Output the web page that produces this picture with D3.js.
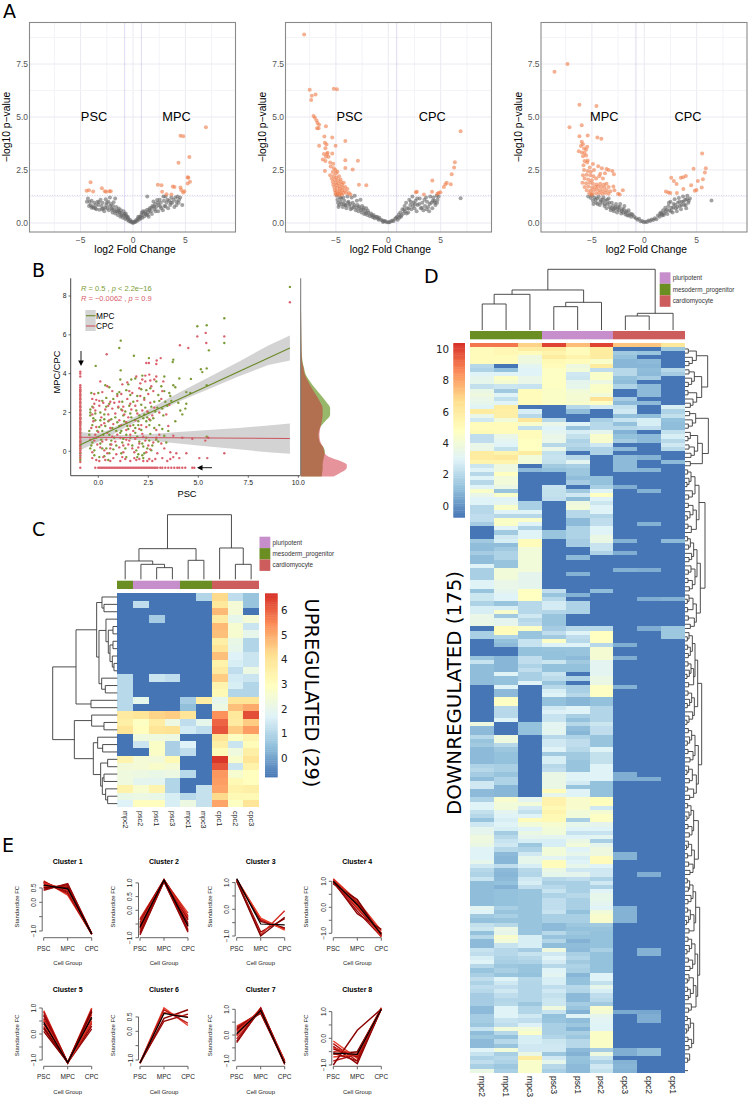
<!DOCTYPE html>
<html><head><meta charset="utf-8">
<script src="https://cdn.jsdelivr.net/npm/d3@7/dist/d3.min.js"></script>
<style>html,body{margin:0;background:#fff}svg{display:block}text{font-family:"Liberation Sans",Arial,sans-serif}</style>
</head><body><svg id="c" width="750" height="1100"></svg>
<script>
// ---------- Panel A data: [log2 fold change, -log10 p]
const a1Grey=[[-4.3,1.15],[-4.15,1],[-4.05,.85],[-3.95,.72],[-3.85,.78],[-3.7,.95],[-3.6,.7],[-3.5,.65],[-3.4,1],[-3.3,.85],[-3.2,.62],[-3.1,1.1],[-3,.8],[-2.9,.95],[-2.85,.68],[-2.75,.55],[-2.6,1.12],[-2.55,.85],[-2.45,.7],[-2.35,1],[-2.3,.6],[-2.2,1.2],[-2.1,.9],[-2.05,.7],[-1.95,.5],[-1.9,.8],[-1.8,.62],[-1.7,1.15],[-1.7,.45],[-1.6,.75],[-1.5,.55],[-1.45,.38],[-1.35,.68],[-1.3,.48],[-1.2,.3],[-1.15,.6],[-1.05,.42],[-.95,.25],[-.9,.55],[-.85,.35],[-.75,.2],[-.7,.45],[-.6,.28],[-.55,.15],[-.45,.22],[-.4,.1],[-.3,.15],[-.25,.06],[-.15,.08],[-.1,.03],[0,0],[.08,.03],[.15,.07],[.22,.05],[.3,.14],[.38,.1],[.45,.2],[.55,.15],[.62,.28],[.7,.2],[.8,.38],[.85,.5],[.9,.25],[1,.45],[1.1,.32],[1.15,.55],[1.25,.4],[1.36,1.25],[1.35,.62],[1.45,.5],[1.5,.3],[1.6,.7],[1.7,.55],[1.8,.42],[1.85,.8],[1.95,1.02],[2.05,.65],[2.1,.9],[2.2,.75],[2.3,1.08],[2.4,.55],[2.45,.85],[2.55,1.1],[2.65,.95],[2.7,.7],[2.85,.6],[3,.8],[3.1,1.25],[3.2,.95],[3.35,.7],[3.45,1.05],[3.55,.85],[3.65,1.2],[3.75,.95],[3.85,1.1],[3.95,.75],[4.05,1.2],[4.15,1.02],[4.25,1.25],[4.4,1.1],[4.5,1.2],[4.7,.85],
[-4.4,1],[-4.2,.8],[-3.95,1.05],[-3.75,.72],[-3.55,.85],[-3.25,.98],[-2.95,.65],[-2.65,.72],[-2.5,.95],[-2.2,.8],[-2,.62],[-1.85,.98],[-1.65,.55],[-1.4,.6],[-1.25,.5],[-1.1,.35],[-.8,.42],[-.65,.35],[-.5,.3],[.5,.3],[.75,.3],[.95,.55],[1.2,.45],[1.4,.38],[1.55,.6],[1.75,.72],[2,.78],[2.15,.55],[2.35,.95],[2.6,.78],[2.95,1.05],[3.1,.78],[3.3,1.1],[3.6,.95],[4.15,.85],[4.35,.95],[2.9,1.25]];
const a1Hit=[[-4.05,1.92],[-4.43,1.52],[-4.2,1.55],[-3.8,1.48],[-2.97,1.64],[-2.69,1.5],[-2.56,1.47],[-2.25,1.5],[-2.12,1.5],[6.96,4.52],[4.53,4.11],[4.8,4.09],[5.38,3.11],[4.34,2.84],[5.22,2.16],[5.28,2.13],[5.44,1.94],[5.22,1.86],[2.37,1.8],[2.72,1.78],[3.8,1.72],[3.96,1.7],[4.53,1.67],[4.6,1.56],[4.9,1.5],[4.78,1.44],[2.78,1.47],[3.2,1.36],[3.67,1.34]];
const a2Grey=[[-4.9,1.28],[-4.85,1.1],[-4.8,.95],[-4.7,.85],[-4.6,1.2],[-4.55,1],[-4.45,.9],[-4.35,.75],[-4.3,1.2],[-4.2,1.05],[-4.1,.85],[-4,.7],[-3.9,1.25],[-3.8,1],[-3.7,.8],[-3.6,.65],[-3.5,1.2],[-3.4,.95],[-3.3,.75],[-3.2,1.28],[-3.1,.6],[-3,1.05],[-2.95,.85],[-2.85,.55],[-2.75,.7],[-2.65,1.1],[-2.55,.5],[-2.5,.8],[-2.4,.62],[-2.3,.42],[-2.2,.55],[-2.1,.7],[-2,.38],[-1.9,.48],[-1.75,.32],[-1.65,.45],[-1.5,.28],[-1.4,.38],[-1.3,.22],[-1.15,.3],[-1,.2],[-.85,.25],[-.7,.15],[-.55,.12],[-.4,.08],[-.3,.1],[-.15,.04],[0,.03],[.12,.04],[.25,.08],[.4,.12],[.5,.1],[.65,.2],[.75,.25],[.85,.3],[.9,.15],[1,.4],[1.05,.25],[1.15,.5],[1.25,.35],[1.35,.65],[1.45,.45],[1.55,.8],[1.6,.55],[1.7,.95],[1.8,.7],[1.9,.5],[2,1.1],[2.1,.85],[2.2,.65],[2.3,1.25],[2.4,.95],[2.5,.7],[2.6,1.05],[2.7,.55],[2.8,.85],[3,1.15],[3.1,.7],[3.25,.95],[3.35,.6],[3.5,.8],[3.6,1.2],[3.7,1],[3.8,.75],[3.9,.55],[4,1.25],[4.1,.95],[4.2,.7],[4.3,1.2],[4.4,1.05],[4.5,.85],[4.6,1.28],[4.7,1.1],[4.8,1.25],[6.9,1.17],
[-4.75,.75],[-4.5,1.15],[-4.25,.9],[-4.05,.82],[-3.85,.95],[-3.65,.9],[-3.45,.7],[-3.25,.85],[-3.05,.72],[-2.8,.78],[-2.6,.62],[-2.35,.72],[-2.15,.45],[-1.95,.58],[-1.6,.36],[-1.35,.3],[-1.05,.28],[-.9,.15],[-.5,.05],[1.2,.3],[1.5,.62],[1.75,.45],[1.95,.68],[2.15,1],[2.35,.8],[2.55,.88],[2.75,1.15],[2.95,.9],[3.2,.72],[3.45,1.1],[3.65,.65],[3.95,.9],[4.25,1.05],[4.45,.95],[4.65,.95]];
const a2Hit=[[-8.03,8.89],[-7.5,6.28],[-6.94,6.06],[-7.3,6],[-7.36,5.8],[-5.2,6.33],[-4.9,6.31],[-7.13,5.05],[-7,4.97],[-6.85,4.84],[-6.75,4.72],[-6.6,4.64],[-5.95,4.56],[-6.8,4.47],[-6.65,4.47],[-6.1,4.08],[-5.35,4.03],[-4.1,3.87],[-6.05,3.78],[-5.9,3.7],[-6.6,3.64],[-6,3.53],[-5.03,3.64],[-5.8,3.31],[-6.15,3.25],[-5.85,3.25],[-5.35,3.28],[-5.95,3.12],[-5.7,3.12],[-6.25,3],[-6,2.92],[-4.1,2.96],[-2.9,2.94],[-5.55,2.85],[-5.25,2.8],[-4.1,2.6],[-3.4,2.52],[-6.05,2.45],[-5.2,2.58],[-5.5,2.66],[-5.05,2.5],[-5.3,2.4],[-5,2.35],[-4.85,2.42],[-5.55,2.25],[-5.2,2.22],[-4.95,2.15],[-4.7,2.2],[-5.4,2.1],[-5.1,2.05],[-4.8,2.02],[-4.55,2.05],[-5.3,1.95],[-5,1.9],[-4.75,1.88],[-4.5,1.92],[-4.25,1.9],[-5.25,1.8],[-4.95,1.78],[-4.65,1.75],[-4.4,1.8],[-5.15,1.68],[-4.85,1.65],[-4.6,1.62],[-4.35,1.68],[-4.1,1.7],[-5.1,1.55],[-4.9,1.5],[-4.65,1.5],[-4.4,1.55],[-4.15,1.52],[-3.9,1.6],[-5.05,1.42],[-4.8,1.38],[-4.55,1.4],[-4.3,1.42],[-4,1.42],[-3.75,1.42],[-2.8,1.8],[-2.1,1.78],[-3.6,1.35],[-5,1.33],[-4.7,1.32],[-4.45,1.33],[6.9,4.33],[6.35,2.86],[6.28,2.62],[6.05,2.3],[4.2,2],[5.96,1.83],[5.58,1.9],[5.45,1.83],[5.3,1.7],[4.97,1.45],[4.8,1.42],[4.17,1.47],[3.4,1.34],[2.72,1.47],[2.63,1.45],[4.68,1.38]];
const a3Grey=[[-5.35,1.25],[-5.1,1.18],[-5,1.3],[-4.9,1.05],[-4.75,1.2],[-4.6,.95],[-4.5,1.15],[-4.35,1.25],[-4.25,.85],[-4.15,1.1],[-4,.95],[-3.9,1.22],[-3.8,.8],[-3.7,1.05],[-3.6,.7],[-3.5,.9],[-3.4,1.15],[-3.3,.75],[-3.2,.6],[-3.1,.95],[-3,.8],[-2.9,.55],[-2.8,.7],[-2.7,.9],[-2.6,.5],[-2.5,.75],[-2.4,.6],[-2.3,.9],[-2.2,.45],[-2.1,.65],[-2,.5],[-1.9,.8],[-1.8,.4],[-1.7,.55],[-1.6,.35],[-1.5,.6],[-1.4,.45],[-1.25,.3],[-1.1,.38],[-.95,.28],[-.8,.22],[-.65,.15],[-.5,.2],[-.35,.08],[-.2,.1],[-.05,.04],[.1,.06],[.25,.05],[.4,.12],[.55,.1],[.7,.16],[.85,.14],[1,.22],[1.15,.18],[1.3,.35],[1.45,.3],[1.5,.45],[1.6,.5],[1.7,.35],[1.8,.6],[1.9,.45],[2,.72],[2.05,.55],[2.2,.42],[2.3,.8],[2.4,.6],[2.5,1],[2.6,.72],[2.7,.5],[2.8,.9],[2.9,1.12],[3,.7],[3.1,.55],[3.2,.95],[3.3,1.18],[3.4,.8],[3.5,.65],[3.6,1],[3.7,1.25],[3.8,.85],[3.9,1.1],[4,.7],[4.1,1.28],[4.2,.95],[4.35,1.15],[6.41,1.06],
[-4.85,.9],[-4.65,1.1],[-4.45,.9],[-4.2,1],[-3.95,1.1],[-3.75,.9],[-3.55,1.1],[-3.35,.95],[-3.15,.7],[-2.95,.65],[-2.75,.75],[-2.55,.65],[-2.35,.75],[-2.15,.55],[-1.95,.65],[-1.75,.5],[-1.45,.35],[-1.2,.42],[1.65,.42],[1.85,.38],[2.15,.62],[2.35,.95],[2.55,.55],[2.75,.72],[2.95,.85],[3.15,.75],[3.35,1],[3.55,.85],[3.75,1.02],[3.95,.85],[4.05,1.12],[4.25,1.05]];
const a3Hit=[[-7.33,7.5],[-8.57,7.14],[-6.19,5.58],[-4.57,5.52],[-7.14,4.52],[-5.97,4.61],[-6.19,4.09],[-5.4,4.13],[-4.48,4.03],[-4.1,3.97],[-5.97,3.83],[-5.85,3.72],[-6.05,3.63],[-5.45,3.6],[-5.75,3.52],[-5.55,3.45],[-6.25,3.38],[-5.95,3.33],[-5.7,3.3],[-5.85,3.15],[-5.55,3.18],[-5.4,2.95],[-5.7,2.92],[-5.45,2.85],[-4.9,2.78],[-4.4,2.68],[-5.8,2.72],[-5.2,2.62],[-4.05,2.58],[-3.4,2.5],[-3.6,2.55],[-3.05,2.45],[-5.75,2.5],[-5.4,2.45],[-5.1,2.42],[-4.8,2.5],[-3.75,2.35],[-4.2,2.32],[-2.9,2.3],[-5.85,2.25],[-5.5,2.28],[-5.15,2.25],[-4.85,2.2],[-4.3,2.2],[-5.7,2.1],[-5.35,2.05],[-5,2.02],[-4.6,2.1],[-3.95,2.1],[-5.9,1.9],[-5.55,1.88],[-5.2,1.9],[-4.9,1.85],[-4.55,1.82],[-4.2,1.85],[-3.85,1.82],[-3.6,1.85],[-5.7,1.7],[-5.35,1.72],[-5,1.68],[-4.7,1.7],[-4.4,1.72],[-4.1,1.7],[-3.8,1.68],[-3.4,1.7],[-2.95,1.72],[-5.5,1.55],[-5.15,1.52],[-4.85,1.55],[-4.55,1.58],[-4.25,1.55],[-3.95,1.52],[-3.6,1.55],[-3.25,1.5],[-2.85,1.55],[-2.05,1.55],[-5.25,1.4],[-4.95,1.38],[-4.6,1.4],[-4.3,1.42],[-4,1.38],[-3.7,1.42],[-3.4,1.38],[-2.5,1.38],[-2.35,1.35],[-5.05,1.33],[5.52,3.28],[5.87,2.58],[5.78,2.38],[4.7,2.56],[5.59,2.06],[5.11,1.98],[3.97,2.22],[3.71,2.16],[3.49,2.13],[2.57,2.14],[2.82,1.98],[3.08,1.84],[4.47,1.78],[3.73,1.6],[5.48,1.67],[4.98,1.56],[4.82,1.52],[3.11,1.41],[2.06,1.48],[2.29,1.44],[2.48,1.41]];
const volcanoXTicks=[-5,0,5], volcanoYTicks=[0,2.5,5,7.5];
// ---------- Panel B data
const bGreen=[[9.58,8.47],[6.3,6.85],[6.3,5.58],[4.95,6.44],[5.42,6.49],[5.53,5.2],[1.12,5.7],[1.05,5.32],[1.78,4.92],[-.13,4.4],[2.53,4.8],[3.75,4.72],[3.72,4.6],[1.12,4.17],[5.13,4.23],[5.42,4.27],[5.2,4.08],[5.42,3.4],[4.63,3.73],[4.05,3.75],[3.75,3.4],[3.3,3.85],[2.9,3.6],[2.2,3.9],[1.85,3.75],[1.1,3.7],[.35,3.4],[0,3],[-.35,3],[.55,3.3],[1.5,3.45],[2.15,3.2],[2.6,3.25],[3.3,3.1],[3.85,3.3],[4.4,3.05],[4.6,3],[3.6,2.85],[3,2.9],[2.3,2.75],[1.6,2.9],[.95,2.95],[.4,2.75],[.2,2.6],[-.3,2.3],[-.4,2.15],[-.4,2],[-.4,1.85],[-.25,1.7],[.1,2],[.4,2.3],[.55,2.45],[1,2.25],[1.2,2.55],[1.55,2.35],[1.9,2.1],[2.15,2.4],[2.5,2],[2.95,2.25],[3.45,2.35],[4,2.5],[4.4,2.45],[4.1,2.1],[3.25,1.85],[2.75,1.7],[2.4,1.55],[2.55,1.35],[2,1.55],[1.65,1.75],[1.25,1.85],[.85,1.75],[.5,1.55],[.35,1.3],[.05,1.25],[-.15,1.6],[.7,1.2],[1.05,1.3],[1.5,1.15],[2.15,1.1],[2.6,.9],[3.2,1.15],[3.3,.8],[2.9,.6],[2.4,.7],[1.95,.75],[1.4,.85],[.8,.7],[.25,.85],[-.1,.7],[-.3,.45],[.1,.4],[.6,.35],[1.2,.45],[1.7,.3],[2.2,.4],[2.7,.3],[-.4,.15],[-.2,.05],[.2,.15],[.75,.1],[1.35,.15],[1.9,.05],[2.3,-.1],[-.2,-.2],[.3,-.25],[1.4,-.3],[2,-.15],[2.25,-.35],[.5,-.45],[3,.5],[1.75,1.35],[2.3,1.9],[3.65,2.6],[3.05,1.35],[2.85,2.05],[1.3,1.55],[.9,1.05],[.2,1.05],[-.45,.85],[-.45,1.05],[5.42,.75],
[.1,1.6],[.3,1.9],[.65,1.65],[.75,2.7],[1.15,2.15],[1.35,2.05],[1.45,1.3],[1.6,1.95],[1.75,2.55],[1.95,2.85],[2.05,1.85],[2.25,1.7],[2.35,2.25],[2.45,1.75],[2.6,1.6],[2.65,2.3],[2.8,2.55],[3.05,2.6],[3.2,2.2],[3.35,2.55],[.15,.6],[.4,.15],[.55,.85],[.9,.3],[1.1,.95],[1.25,.65],[1.6,.7],[1.85,.95],[2.05,.5],[2.25,.25],[2.45,.15],[2.55,.55],[2.8,1.2],[3.5,1.05],[-.35,.3],[-.3,1.35],[-.15,1.95],[-.05,1.05],[.3,1.65],[.65,.55],[.95,1.5],[1.15,1.05],[1.85,1.2],[2,1.35],[2.2,-.2],[1.95,-.3],[1.15,-.1],[.05,-.3],[.55,-.1],[2.65,.05],[3.4,.45],[3.85,1.55],[4.2,1.9],[4.35,2.2],[3.55,3],[3.15,3.35],[1.05,3.05],[1.4,3.15],[2.4,3.15],[1.65,3.7]];
const bRed=[[9.58,7.68],[6.3,5.92],[6.3,-.1],[4.95,5.92],[5.37,6.1],[5.4,5.58],[4.5,5.32],[4.08,5.46],[.42,5],[2.92,4.68],[3.12,4.8],[2.53,4.55],[2.4,4.55],[2.9,4.5],[2.55,3.95],[2.9,3.85],[3.25,3.6],[2.8,3.7],[2.2,3.7],[2.35,3.6],[1.9,3.85],[1.45,3.55],[1.2,3.45],[.1,3.6],[.45,3.35],[-.2,2.95],[2.65,3.35],[3.2,3.1],[2.05,3.25],[1.7,3],[.95,2.85],[.6,2.55],[-.1,2.65],[-.2,2.45],[-.25,2.25],[.05,2.35],[.35,2.15],[.7,2.2],[1.05,2.55],[1.45,2.7],[1.85,2.35],[2.3,2.65],[2.6,2.5],[3.15,2.7],[3.55,2.4],[2.2,2.1],[1.65,2.15],[1.2,2.1],[.85,1.95],[.5,1.9],[.15,1.75],[-.15,2.1],[-.3,1.9],[-.25,1.55],[.3,1.45],[.6,1.2],[1.05,1.6],[1.5,1.75],[1.85,1.6],[2.15,1.35],[2.7,1.85],[3.5,1.3],[2.9,1.1],[2.2,.9],[1.75,1.05],[1.4,1.1],[.95,.85],[.45,.95],[0,1],[-.35,1.2],[-.4,.6],[-.05,.35],[.4,.6],[.85,.5],[1.55,.55],[1.85,.65],[2.35,.55],[2.9,.7],[3.75,.8],[4.2,.7],[4.7,.65],[5.35,.55],[5.5,.7],[3.15,.4],[2.6,.1],[2,.2],[1.5,.35],[1.05,.2],[.6,.15],[.1,.2],[-.3,-.05],[.45,-.1],[1.25,-.05],[1.8,-.05],[2.4,-.05],[2.95,-.1],[3.6,-.05],[3.9,-.1],[4.4,-.1],[-.3,-.35],[.25,-.3],[.75,-.35],[1.35,-.4],[1.8,-.35],[2.05,-.4],[2.55,-.4],[2.85,-.4],[3.2,-.35],[3.6,-.4],[4.05,-.35],[5.05,-.35],[5.45,-.35],[2.45,-.5],[1.6,-.5],[1.9,-.45],[.9,-.15],[3.3,.15],[1.3,1.9],
[.2,.5],[.3,.05],[.65,.35],[.7,.75],[1.1,.7],[1.25,.3],[1.4,.6],[1.6,.85],[1.7,.15],[2.05,.4],[2.25,.75],[2.5,.3],[2.75,.45],[3.05,.85],[-.2,.55],[-.15,.85],[.15,1.35],[.55,1.6],[.75,1.4],[1.15,1.35],[1.4,1.5],[1.6,1.3],[1.95,1.95],[2.05,1.15],[2.4,1.25],[2.55,1.65],[2.45,2.05],[2.8,2.25],[3.05,2],[3.4,1.9],[-.3,2.7],[-.1,1.25],[.05,2.6],[.25,2.5],[.5,2.35],[.8,2.5],[1,2.3],[1.25,2.3],[1.6,2.45],[1.95,2.6],[2.1,2.85],[2.5,2.95],[2.75,3.1],[1.55,3.1],[1.15,2.95],[.7,3.1],[.2,3.05],[2.1,3.5],[2.6,3.65],[2.35,3.9],[1.2,-.3],[.6,-.5],[.05,-.5],[-.1,-.45],[.35,-.45],[1.1,-.5],[2.25,-.5],[2.7,-.5],[3.45,-.5],[3.75,-.3]];
const bFloorX=-.9, bFloorY=-.85;
const bColumnRed=[4.1,4,3.85,3.4,3.3,3.2,3.12,3.05,2.95,2.85,2.75,2.65,2.55,2.45,2.35,2.25,2.15,2.05,1.95,1.85,1.75,1.65,1.55,1.45,1.35,1.25,1.15,1.05,.95,.85,.75,.65,.55,.45,.35,.25,.15,.05,-.05,-.2,-.35,-.55];
const bColumnGreen=[3.1,2.9,2.7,2.5,2.3,2.1,1.9,1.7,1.5,1.35,1.15,.95,.75,.5,.3,.15,-.1,-.3,-.45];
const bRowRed=[-.9,-.15,0,.08,.16,.24,.32,.4,.48,.56,.64,.72,.8,.88,.96,1.04,1.12,1.2,1.28,1.36,1.44,1.52,1.6,1.68,1.76,1.84,1.92,2,2.08,2.16,2.24,2.32,2.4,2.48,2.56,2.64,2.72,2.8,2.88,2.96,3.1,3.2,3.35,3.5,3.65,3.8,3.95,4.05,4.2,4.35,4.7,4.8];
const bLineMPC=[[-.92,.33],[9.58,5.32]], bLineCPC=[[-.92,.72],[9.58,.66]];
const bBandX=[-.92,.5,1.5,2.5,4,5.5,7,8.5,9.58];
const bBandMPCHi=[.62,1.1,1.6,2.15,3,3.8,4.6,5.45,5.96], bBandMPCLo=[.05,.72,1.32,1.8,2.55,3.2,3.85,4.45,4.68];
const bBandCPCHi=[1,.85,.84,.88,1,1.1,1.2,1.33,1.43], bBandCPCLo=[.38,.6,.6,.55,.4,.25,.1,-.05,-.12];
const densY=[-1.3,-1.1,-.88,-.7,-.5,-.28,-.02,.15,.5,.85,1.2,1.53,1.88,2.22,2.56,2.9,3.25,3.6,3.94,4.3,4.63,5.15,6.7,8.4];
const densMPC=[.45,.46,.47,.47,.48,.5,.52,.5,.4,.38,.41,.52,.63,.63,.54,.43,.31,.2,.11,.07,.04,.02,.01,0];
const densCPC=[.7,.85,.98,.99,.85,.6,.5,.49,.42,.4,.42,.45,.47,.47,.41,.33,.24,.16,.09,.06,.03,.02,.01,0];
// ---------- Panel C data
const cCols=["mpc2","psc2","psc1","psc3","mpc1","mpc3","cpc1","cpc2","cpc3"];
const cGroups=["m","p","p","p","m","m","c","c","c"];
const L=-.76;
const cRows=[[L,L,L,L,L,1,4.3,1.2,.6],[L,1.2,L,L,L,L,3.9,2.5,.6],[L,L,L,L,L,L,4.8,2.5,L],[L,L,.8,L,L,L,3.8,2,2.5],[L,L,L,L,L,L,4.8,2.6,1.4],[L,L,L,L,L,L,4.7,2.6,2],[L,L,L,L,L,L,3.6,2.1,1],[L,L,L,L,L,L,4,2,1],[L,L,L,L,L,L,4.7,1.7,1.4],[L,L,L,L,L,L,3.5,1.6,1.4],[L,L,L,L,L,L,3.8,1.2,2.2],[1.1,L,1.4,1.2,L,L,4.5,1.5,1.4],[1.1,L,L,L,L,L,3.4,1.6,1],[1.1,L,L,L,L,L,3.2,1,1],[1.1,2,L,L,.8,3.7,2,4,4],[1.1,L,L,L,.5,L,2.2,4.7,5],[3.8,4,4.4,4.5,4,L,5.4,3.9,6.3],[3.6,2.9,3.7,2.2,1.2,2,6,3.8,4.5],[4,3,4,4.1,1.5,1.2,6.2,4.5,5.2],[L,2.3,2.3,2.2,L,L,4,2.9,3.4],[L,1.4,2.8,.9,1.7,L,3.6,1.4,3.1],[L,L,2.8,.9,1.2,L,3.1,2.3,3.6],[3.4,2.5,2.4,3.2,L,L,6.6,2.7,4],[2.4,2.5,2.7,2.5,L,L,6.2,1.4,3.5],[2.3,2.2,2.1,2.2,1.1,L,5.3,2.6,3],[2.3,1.9,1.9,1,L,L,5.2,3.2,3],[3.5,2.6,3.4,1,L,1.3,5.1,3.5,3.6],[2.1,2.2,2.1,1.6,1.1,1.3,4.3,3.2,3.2],[1.7,3,3,1.6,2.2,1.3,5.1,2.9,4]];
const cLegendTicks=[0,1,2,3,4,5,6];
// trees: [height, left, right], 0 = a leaf
const cColTree=[194,[92,[55,0,[45,0,[35,0,0]]],[57,0,0]],[94,0,[45,0,0]]];
const cRowTree=[194,[124,[62,[46,0,[40,0,0]],[55,[34,0,[27,[13,0,0],[22,[13,0,0],[15,0,[10,0,0]]]]],[47,0,[36,0,0]]]],[79,0,0]],[129,[77,0,[40,0,0]],[72,[59,0,[44,0,0]],[50,[29,0,0],[45,[40,0,0],[35,0,[29,0,0]]]]]]];
// ---------- Panel D data (columns)
const d=-.7;
const dCols=["mpc2","mpc1","mpc3","psc3","psc1","psc2","cpc3","cpc2","cpc1"];
const dGroups=["m","m","m","p","p","p","c","c","c"];
const mpc2D=[9,5,5,5,5,2,1.8,3,3.3,3.4,
2.3,3.6,3.8,3.5,3.4,3,6,3.5,2.6,5,
5,5.2,2.2,2.2,3.5,3.5,6,6,5.5,2.5,
3,2,3,2,3,4.5,3.5,3,3,2,
2,2.2,2.2,1.6,d,d,d,1.5,1.1,1.1,
1.6,1.1,1.1,3,1.7,1.7,1.7,3,3,1.3,
2.5,2.5,1.8,2.8,2.8,3.5,3.5,3.6,d,1.7,
1.7,d,d,d,d,1.3,2.4,1.1,1.1,1.1,
1.1,1.1,d,d,d,d,d,d,d,d,
d,3.8,1,1,2,1.3,1.5,1,1,1,
1,1.8,2,1.6,1.1,2.6,2.6,1,1,1.8,
3,3,2.3,2,1.3,2.6,3.3,3.3,3.8,3.8,
3.6,3,3,3,3.4,2.6,2,1.8,2.4,1.1,
1.1,1.1,1.1,1.1,1.1,3.2,3,1.5,1.2,2.3,
2.5,1.2,2,1,1,2.4,2.2,2.8,3,2,
1.3,1.7,2.2,1.8,2.2,2,1.6,1.6,1.6,1,
1,1.6,1.6,1.4,2.4,1.1,1.4,1,1,3,
2.4,1.8,2.2,1.7,3.6];
const mpc1D=[9,5.3,5.3,5,5,d,1.2,3,4.6,4.2,
2.5,1.5,3,2.3,3,6,5.8,5.8,4,5,
5,5,3.5,3.2,3,2.3,5.5,6.2,5.5,3.8,
3.8,4.8,4,4,3.6,1.3,4.5,3,3.2,4.5,
3,2,4.6,4.6,3,1.5,2.6,2.8,1.1,1.5,
1.8,1.8,1.3,1.3,4,4,4,3.5,3.5,3.3,
3,3,1.3,2.8,4.4,1.5,3.3,3.3,5,5,
1.8,1.2,1,d,d,.9,.9,.9,.9,3,
1.2,1.2,3,1,1,4.7,4.7,2,2,2,
3,d,d,d,3.8,3.8,2,1.4,1.2,1.2,
1.2,1.7,1.7,1.3,1.8,1.8,.9,.9,.9,4.4,
4,4,3.2,3,2.8,3,2.8,1.6,2,2.4,
2.6,2,1,.9,.9,2.2,1,.9,1,1.2,
.8,1.2,1.2,1.2,1.2,1.7,1.3,1.7,1.3,2,
3.6,3.4,4.4,4,2.4,2,2,1.8,1.7,1.4,
1.7,1.3,3,2.6,2.2,2.6,2.2,1.9,2,3,
3,3,2.4,2.2,4,2,1.2,2,1.3,4,
1.7,2,1.8,1.4,1.7];
const mpc3D=[7,6,5,3.8,3.8,3.2,3,3,3.5,3.5,
2.4,5,5,5,5,d,2.8,2,6.3,4.4,
2.3,5,5,4.8,4.8,4.8,6,4,4,d,
1,d,d,d,d,d,d,d,1.7,1.7,
3,2,4.5,3,1.8,3,3,5,5,4,
4,4,4,4,4,3.3,3.3,3.3,3.3,4.8,
4.8,4.8,2,2,2,2.6,2,2.2,4.6,1.3,
1.3,2.4,2.4,1.2,1.2,2.2,2.2,1.8,2.2,1.7,
1.7,3,d,d,d,d,d,d,d,d,
d,1.2,1.2,1.2,d,d,d,d,d,d,
d,d,d,d,d,d,d,d,d,3.2,
4,2.7,2.3,3,5,4,3,3.6,3.3,2.8,
1.4,1.8,2.6,3.4,3.4,2.8,2,1.9,2.6,2.8,
2.2,1.3,1.3,1.3,1.3,1.3,1.3,1.3,1.3,1.3,
1.3,1.3,2.8,2.8,2.8,1.6,2.4,2,1.8,1.3,
1.3,1.2,2,1.9,1.9,1.9,1.9,1.9,1.4,1.9,
1.9,2.6,2.2,2.9,4,4.6,2.8,2.8,2.6,2.6,
3.6,6,4.5,4.5,4.5];
const psc3D=[10,6,5.5,6,5.2,5,4.7,4.7,4.7,4.7,
4.7,4.6,4.6,4.6,4.6,d,d,d,2,3.5,
3,3.2,3.5,3.5,2,3.5,2.3,2.4,2.3,1.5,
1.2,d,d,d,2.4,2.3,2.3,2.2,d,d,
d,d,d,d,d,1.3,1.3,d,d,d,
d,d,d,d,d,d,d,d,d,2.2,
1.3,2,2.7,2.7,1.9,1.3,1.3,1.3,1.6,2.2,
1.5,4.6,3,1.3,1.2,1.2,2.5,1.2,1.2,2.4,
2.1,1.3,2,2.8,3,1.2,1.2,2.6,2.9,2.4,
2.4,3.2,3.2,3.2,2,2.6,2.6,3,1.5,2.8,
2.8,2,2.2,3.6,3.6,3.6,3.6,5,3.4,5.6,
5.6,5.2,5.5,5.2,5.2,4.3,4,4,3.2,2.8,
2.8,4,4,3.2,5,5,3.6,3.4,2,1.7,
2,2.4,1.8,2.2,2.2,2.2,2.4,1.7,1.7,1,
1,2,1.3,1.9,1.1,3.8,2.6,3,2.7,2,
3,3.2,2.8,2.8,2.2,2.6,2.3,2.5,2.5,3.8,
2.4,1.2,1.3,1.7,1.7,1.7,1.9,2.5,2.6,2.6,
1.4,2.6,3.4,2,1.7];
const psc1D=[7.5,5,5,5.5,5,3.8,4,2.6,2.5,3.3,
3.4,4,4.2,4.2,4.4,2,1.1,d,d,3,
1.3,2.8,2.3,1.8,2,1.7,d,2,3.2,1.7,
1.4,1.4,1.1,1.6,d,1.5,2.6,1.1,3.8,4,
2,2,1,1,1.8,1.8,1.8,1.6,1.6,d,
d,1,d,d,d,.8,d,d,d,d,
.8,d,1.8,1.8,1.8,d,d,d,2,3,
2.2,2,3,1.3,1.3,1,1.5,1.2,1.2,d,
1.8,d,1.7,1.7,2,.9,.9,3,3,1.7,
1.2,2,1.1,.9,1.8,2.2,2.2,2,1.5,1.5,
1.3,1.3,1.3,3,3,2.7,1.3,3,3,4.4,
4.4,4.4,4,4,1.7,3.4,3,2.4,3,3.6,
4,3,3.4,2.8,3,3.4,2.6,3.3,2.2,1.7,
1.7,1.7,2,1.7,1.7,1.7,1.2,1.7,1.7,1.4,
1.2,1.4,1.2,.8,1.1,1,1.7,1.9,1.5,1.8,
1.7,.9,1.2,1.2,2,1.9,1,1,1.6,1.3,
.8,3,1.1,1.4,.9,1.7,1.4,2,2,1,
.8,1.3,1.2,1,1];
const psc2D=[10,6,6,6,4.5,6,2.2,4.5,4.5,3.7,
4.5,4.6,4,6.5,4.7,2.6,d,d,1.7,2,
2,3.3,4.4,4.4,2.6,1.8,1.8,d,d,d,
d,d,1.2,1.2,1.7,3,4.8,3,2.5,3,
3,1.9,2.2,2.2,3,3,3.6,3.6,2.4,2.4,
1.8,d,d,d,d,d,d,d,d,1.1,
d,d,d,d,d,d,d,d,2,4.8,
4.8,4.8,2,4.2,4.2,4.2,3.2,3.2,3.2,3.2,
3.6,3.6,4.7,4.7,4.7,1.2,1.2,1.9,1.9,1.9,
1.9,2.5,2.2,2.2,1.3,1.3,1.3,3,2.3,2.3,
2.3,3,3,3,3,1.2,1.2,1.2,1.2,4.9,
4.9,2.6,4.2,4.7,4.7,3.3,3,2.4,3.2,1.7,
3.3,3.8,3.8,5,5,3,2.6,2.6,1.8,2.6,
1.8,3,3.4,3.4,3.2,3,4,4.4,4.4,1.5,
1.3,1.2,1.2,1.2,1.2,1.7,1.2,1.2,1.2,1.2,
1.2,3,3,2.3,3.4,2.8,2.2,2,1.5,4.4,
4.2,3.3,3.1,3,3,4.6,4.6,4.6,4.6,1.6,
3.8,2.4,1.8,2.6,2.3];
// cpc columns are at the floor value except for these [row, value] pairs
const cpc3Raised=[[0,7.3],[2,1.5],[3,1.2],[4,.9],[5,.9],[6,2],[7,2],[8,1.2],[9,1.1],[10,1.8],[13,1.6],[14,1],[15,2.3],[16,2.6],[17,1.2],[18,2.4],[19,1.2],[20,2],[21,.8],[22,1.2],[23,1.6],[25,1],[27,1],[28,1],[29,1],[30,1],[34,.7],[47,.8],[50,.7],[54,.8],[72,.7],[75,.7],[82,.8],[103,.7],[104,.7],[122,.8],[123,.8],[135,.8],[136,.8],[137,.8],[138,.8],[160,.6],[169,.7],[170,.7],[172,.8],[173,.9],[174,.8]];
const cpc2Raised=[[0,7.3],[2,1.3],[4,1],[5,.9],[6,1.1],[7,1],[8,1.6],[10,1],[11,1],[12,1],[14,1],[17,1.1],[18,2.8],[19,2.8],[20,2.2],[22,1],[23,1],[27,.8],[30,.9],[35,.8],[43,.8],[54,.7],[61,.7],[68,.7],[104,.7],[127,.7],[145,.8],[146,.8],[160,.5],[161,.7],[162,.7],[169,1.1],[170,1.1]];
const cpc1Raised=[[0,6.2],[1,1.4],[6,2],[7,1.6],[15,2.8],[16,1.8],[17,2.3],[18,1.2],[19,1.1],[20,1.1],[21,2.3],[22,2.8],[23,2],[24,2.6],[25,2],[28,1],[47,1],[61,.8],[68,1.4],[69,1.4],[70,1.4]];
const dLegendTicks=[0,2,4,6,8,10];
const dColTree=[182,[120,[107,[78,0,0],0],[83,[70,0,0],0]],[50,[42,0,0],0]];
const tT1=[68,[34,[10,0,0],[22,0,[12,0,0]]],[50,[28,[12,0,0],[20,0,[10,0,0]]],[35,[9,0,0],[24,0,[16,0,0]]]]];
const tV1=[70,[32,[14,0,0],[22,0,[10,0,0]]],[52,[38,[16,0,[9,0,0]],[28,[12,0,0],[18,0,0]]],[16,0,0]]];
const tX1=[42,[30,[18,[8,0,0],[12,0,[6,0,0]]],[22,0,[11,0,0]]],[34,[24,[10,0,0],[15,0,[7,0,0]]],[19,[9,0,0],0]]];
const tX2=[46,[36,[26,[16,[8,0,0],[11,0,0]],[20,0,[12,0,0]]],[30,[18,0,[10,0,0]],[22,[9,0,0],[13,0,0]]]],[34,[24,[12,0,[7,0,0]],[8,0,0]],[28,[10,0,0],[16,0,0]]]];
const tY1=[50,[38,[30,[22,[12,0,[7,0,0]],[16,[8,0,0],[10,0,0]]],[26,[18,[9,0,0],[13,0,[6,0,0]]],[11,0,0]]],[28,[20,[9,0,0],[14,0,[7,0,0]]],[23,0,[12,0,[6,0,0]]]]],[40,[30,[20,[10,0,0],[14,0,[7,0,0]]],[24,[9,0,0],[15,0,0]]],[34,[22,[11,0,[6,0,0]],[13,0,0]],[26,[8,0,0],[14,0,0]]]]];
const tY2a=[40,[26,[18,[8,0,0],[12,0,[6,0,0]]],[21,[9,0,0],[13,0,0]]],[28,[20,[10,0,[5,0,0]],[8,0,0]],[24,[11,0,0],[15,0,0]]]];
const tY2b=[44,[32,[24,[14,[7,0,0],[10,0,0]],[18,0,[9,0,0]]],[27,[16,[8,0,0],[11,0,[5,0,0]]],[12,0,0]]],[38,[30,[20,[9,0,0],[13,0,[6,0,0]]],[23,[10,0,0],[15,0,0]]],[33,[25,[12,0,[7,0,0]],[16,[8,0,0],[10,0,0]]],[19,0,[11,0,0]]]]];
const tY2c=[36,[26,[16,[7,0,0],[10,0,[5,0,0]]],[20,[9,0,0],[12,0,0]]],[22,[14,0,[8,0,0]],[17,0,[9,0,0]]]];
const dRowTree=[185,0,[100,tT1,[80,tV1,[72,[60,tX1,tX2],[63,tY1,[56,tY2a,[48,tY2b,tY2c]]]]]]];
// ---------- Panel E data: member profiles [PSC,MPC,CPC]
const eGroups=["PSC","MPC","CPC"];
const eTitles=["Cluster 1","Cluster 2","Cluster 3","Cluster 4","Cluster 5","Cluster 6","Cluster 7","Cluster 8"];
const eProfiles=[
[[.75,.25,-1.1],[.72,.3,-1.1],[.7,.38,-1.12],[.66,.35,-1.1],[.62,.45,-1.1],[.58,.5,-1.1],[.55,.55,-1.1],[.5,.58,-1.1],[.46,.62,-1.1],[.42,.65,-1.08],[.68,.42,-1.1],[.52,.52,-1.1]],
[[-.3,1.1,-.1],[-.35,1.12,-.2],[-.45,1.12,-.3],[-.55,1.1,-.35],[-.6,1.1,-.45],[-.7,1.08,-.55],[-.75,1.08,-.6],[-.8,1.08,-.7],[-.85,1.05,-.75],[-.9,1.05,-.8],[-.5,1.1,-.25],[-.65,1.1,-.5]],
[[1.1,-.35,-.75],[1.12,-.4,-.72],[1.1,-.45,-.7],[1.1,-.85,-.35],[1.05,-.95,-.05],[1.05,-1,-.3],[1.12,-.33,-.78]],
[[1.1,.25,-.9],[1.05,.2,-1],[1,.15,-1.05],[.95,.1,-1],[1.08,.05,-1.05],[.9,.3,-1.1],[1.02,0,-1],[.98,-.05,-1.05],[1,-.25,-.85],[.95,-.15,-1.12],[1.05,.12,-1.15]],
[[.9,-1.1,1],[.85,-1.1,.95],[.75,-1.12,.9],[.6,-1.1,.85],[.5,-1.1,.75],[.4,-1.12,.6],[.3,-1.1,.5],[.2,-1.1,.4],[.1,-1.1,.3],[.7,-1.1,.2],[.55,-1.12,.45],[.25,-1.1,.85]],
[[-1.1,.82,.2],[-1.1,.75,.28],[-1.12,.45,.75],[-1.1,.35,.6],[-1.1,.65,.5]],
[[.35,.85,-1.05],[.3,.9,-1.1],[.25,.85,-1.1],[.2,.95,-1.15],[.1,1,-1.1],[0,1,-1.1],[-.05,1.05,-1.05],[-.15,1,-1],[-.25,1,-1.1],[-.3,1.05,-1.1],[.15,.92,-1]],
[[-.1,-.75,1.1],[-.2,-.85,1.1],[-.3,-.95,1.1],[-.4,-.7,1.1],[-.5,-.55,1.15],[-.6,-.5,1.1],[-.7,-.6,1.1],[-.85,-.6,1.1],[-1,.3,1.1],[-.55,-.85,1.1],[-.35,-.65,1.12]]];
const eMeans=[[.6,.47,-1.1],[-.6,1.1,-.58],[1.15,-.55,-.58],[1,.1,-1.03],[.45,-1.1,.65],[-1.1,.62,.48],[.05,.95,-1.1],[-.55,-.6,1.1]];
const eTicks=[[-1,-.5,0,.5],[-1,-.5,0,.5,1],[-1,-.5,0,.5,1],[-1,-.5,0,.5,1],[-1,-.5,0,.5,1],[-1,-.5,0,.5],[-1,-.5,0,.5,1],[-1,-.5,0,.5,1]];
const eLabels=[[-1,0,.5],[-1,0,.5,1],[-1,0,1],[-1,0,1],[-1,0,1],[-1,0,.5],[-1,0,1],[-1,0,1]];
const eShades=["#E8402C","#B81414","#8B0000","#9C0A0A","#D42A20","#7A0000"];

// ---------- drawing
const svg=d3.select("#c");
const minus=s=>String(s).replace("-","\u2212");
function txt(g,x,y,s,o={}){const t=g.append("text").attr("x",x).attr("y",y).text(s)
  .attr("font-size",o.size||10).attr("fill",o.fill||"#000").attr("text-anchor",o.anchor||"middle");
  if(o.family)t.style("font-family",o.family);
  if(o.weight)t.attr("font-weight",o.weight);
  if(o.rot!==undefined)t.attr("transform",`rotate(${o.rot} ${x} ${y})`);
  return t;}
[["A",3,18],["B",32,277],["C",32,536],["D",424,283],["E",2,852]].forEach(([s,x,y])=>txt(svg,x,y,s,{size:19,anchor:"start",family:"'DejaVu Sans'"}));

// ---- A
function volcano(o){
  const g=svg.append("g");
  const x=d3.scaleLinear().domain([-5,5]).range([o.x0-52.4,o.x0+52.4]);
  const y=d3.scaleLinear().domain([0,7.5]).range([223,64]);
  const L0=o.left,R0=o.left+206,T0=22.5,B0=232;
  d3.range(-10,10.1,2.5).forEach(v=>{const p=x(v);if(p>L0&&p<R0)g.append("line").attr("x1",p).attr("x2",p).attr("y1",T0).attr("y2",B0).attr("stroke",Math.abs(v%5)<.01?"#e9e9f2":"#f3f3f8");});
  d3.range(0,10,1.25).forEach(v=>{const p=y(v);if(p>T0&&p<B0)g.append("line").attr("x1",L0).attr("x2",R0).attr("y1",p).attr("y2",p).attr("stroke",Math.abs(v%2.5)<.01?"#e9e9f2":"#f3f3f8");});
  g.append("line").attr("x1",L0).attr("x2",R0).attr("y1",y(1.3)).attr("y2",y(1.3)).attr("stroke","#d0d2ea").attr("stroke-dasharray","1 1.5");
  o.vlines.forEach(v=>g.append("line").attr("x1",x(v)).attr("x2",x(v)).attr("y1",T0).attr("y2",B0).attr("stroke","#a8aae0").attr("stroke-dasharray","1 1").attr("stroke-width",.8));
  g.selectAll(null).data(o.grey).join("circle").attr("cx",d=>x(d[0])).attr("cy",d=>y(d[1])).attr("r",2).attr("fill","#666").attr("opacity",.6);
  g.selectAll(null).data(o.hit).join("circle").attr("cx",d=>x(d[0])).attr("cy",d=>y(d[1])).attr("r",2).attr("fill","#EE7C48").attr("opacity",.6);
  g.append("rect").attr("x",L0).attr("y",T0).attr("width",206).attr("height",B0-T0).attr("fill","none").attr("stroke","#8a8a8a").attr("stroke-width",1.1);
  volcanoXTicks.forEach(v=>txt(g,x(v),243,minus(v),{size:8.5,fill:"#555"}));
  volcanoYTicks.forEach(v=>txt(g,L0-1.5,y(v)+3,v.toFixed(1),{size:8.5,fill:"#555",anchor:"end"}));
  txt(g,o.x0+2,252.5,"log2 Fold Change",{size:10.3});
  txt(g,L0-19.5,127,"\u2212log10 p\u2212value",{size:10.3,rot:-90});
  txt(g,o.lab[0],120.5,o.names[0],{size:12.8});txt(g,o.lab[1],120.5,o.names[1],{size:12.8});
}
volcano({left:29.5,x0:133,vlines:[-.8,.8],grey:a1Grey,hit:a1Hit,names:["PSC","MPC"],lab:[94,176.5]});
volcano({left:285.5,x0:388.3,vlines:[.8],grey:a2Grey,hit:a2Hit,names:["PSC","CPC"],lab:[349.7,432.3]});
volcano({left:541,x0:644.3,vlines:[-.8],grey:a3Grey,hit:a3Hit,names:["MPC","CPC"],lab:[604.3,688]});

// ---- B
(function(){
  const g=svg.append("g");
  const x=d3.scaleLinear().domain([0,10]).range([98.3,298.3]);
  const y=d3.scaleLinear().domain([0,8]).range([451.3,296]);
  const dx=d3.scaleLinear().domain([0,1]).range([300.7,347.4]);
  const area=(a)=>d3.area().y(d=>y(d)).x0(dx(0)).x1((d,i)=>dx(a[i])).curve(d3.curveMonotoneY)(densY);
  g.append("path").attr("d",area(densMPC)).attr("fill","rgb(151,184,106)");
  g.append("path").attr("d",area(densCPC)).attr("fill","rgb(207,39,55)").attr("opacity",.5);
  g.append("line").attr("x1",300.7).attr("x2",300.7).attr("y1",278.3).attr("y2",475.7).attr("stroke","#777");
  const band=(hi,lo)=>d3.area().x((d)=>x(d)).y0((d,i)=>y(lo[i])).y1((d,i)=>y(hi[i]))(bBandX);
  const ln=d3.line().x(d=>x(d[0])).y(d=>y(d[1]));
  const pts=(data,col)=>g.selectAll(null).data(data).join("circle").attr("cx",d=>x(d[0])).attr("cy",d=>y(d[1])).attr("r",1.2).attr("fill",col);
  g.append("path").attr("d",band(bBandMPCHi,bBandMPCLo)).attr("fill","#c8c8c8").attr("opacity",.8);
  g.append("path").attr("d",band(bBandCPCHi,bBandCPCLo)).attr("fill","#c8c8c8").attr("opacity",.8);
  pts(bColumnGreen.map(v=>[bFloorX,v]),"#7C9C38");
  pts(bGreen,"#7C9C38");
  pts(bColumnRed.map(v=>[bFloorX,v]),"#D9606C");
  pts(bRowRed.map(v=>[v,bFloorY]),"#D9606C");
  pts(bRed,"#D9606C");
  g.append("path").attr("d",ln(bLineMPC)).attr("stroke","#6B8A26").attr("stroke-width",1.1).attr("fill","none");
  g.append("path").attr("d",ln(bLineCPC)).attr("stroke","#CC5560").attr("stroke-width",1.1).attr("fill","none");
  g.append("path").attr("d","M70.7,278.3V475.7H300").attr("fill","none").attr("stroke","#333").attr("stroke-width",.9);
  [0,2,4,6,8].forEach(v=>{g.append("line").attr("x1",68.5).attr("x2",70.7).attr("y1",y(v)).attr("y2",y(v)).attr("stroke","#333").attr("stroke-width",.7);txt(g,66.5,y(v)+2.4,v,{size:6.8,anchor:"end",fill:"#222"});});
  [0,2.5,5,7.5,10].forEach(v=>{g.append("line").attr("x1",x(v)).attr("x2",x(v)).attr("y1",475.7).attr("y2",477.8).attr("stroke","#333").attr("stroke-width",.7);txt(g,x(v),484.5,v.toFixed(1),{size:6.8,fill:"#222"});});
  txt(g,187,497,"PSC",{size:9.3});txt(g,60,372,"MPC/CPC",{size:9.3,rot:-90});
  const rLab=(yy,col,parts)=>{const t=g.append("text").attr("x",81).attr("y",yy).attr("font-size",7.5).attr("fill",col);parts.forEach(([s,it])=>t.append("tspan").text(s).attr("font-style",it?"italic":"normal"));};
  rLab(290.5,"#7C9C38",[["R",1],[" = 0.5 , ",0],["p",1],[" < 2.2e\u221216",0]]);
  rLab(300.5,"#D9606C",[["R",1],[" = \u22120.0062 , ",0],["p",1],[" = 0.9",0]]);
  g.append("rect").attr("x",85.3).attr("y",310).attr("width",10.4).attr("height",21).attr("fill","#d4d4d4");
  [[315.7,"#6B8A26","MPC"],[326,"#CC5560","CPC"]].forEach(([yy,c,s])=>{g.append("line").attr("x1",86).attr("x2",95.5).attr("y1",yy).attr("y2",yy).attr("stroke",c).attr("stroke-width",1.1);txt(g,96,yy+2.9,s,{size:8.3,anchor:"start"});});
  g.append("path").attr("d","M81,351V362").attr("stroke","#000").attr("stroke-width",.9);
  g.append("path").attr("d","M78.2,360.5L81,366L83.8,360.5Z").attr("fill","#000");
  g.append("path").attr("d","M212,467.7H201").attr("stroke","#000").attr("stroke-width",.9);
  g.append("path").attr("d","M202.5,465L197,467.7L202.5,470.4Z").attr("fill","#000");
})();

// ---- heatmaps
const pal=["#4575B4","#91BFDB","#E0F3F8","#FFFFBF","#FEE090","#FC8D59","#D73027"];
const groupCol={p:"#C68FCB",m:"#6B8E23",c:"#CD5C5C"};
function heatColor(lo,hi){return d3.scaleLinear().domain(d3.range(7).map(i=>lo+(hi-lo)*i/6)).range(pal).clamp(true);}
function drawTree(g,tree,leafPos,hPos,horizontal){
  let i=0;const dd=[];
  (function rec(n){if(!n)return{p:leafPos(i++),h:0};
    const a=rec(n[1]),b=rec(n[2]);const H=hPos(n[0]);
    const A=hPos(a.h),B=hPos(b.h);
    dd.push(horizontal?`M${a.p},${A}V${H}H${b.p}V${B}`:`M${A},${a.p}H${H}V${b.p}H${B}`);
    return{p:(a.p+b.p)/2,h:n[0]};})(tree);
  g.append("path").attr("d",dd.join("")).attr("fill","none").attr("stroke","#3a3a3a").attr("stroke-width",.9);
  return i;
}
function heatmap(o){
  const g=svg.append("g");
  const col=heatColor(o.lo,o.hi);
  const x=d3.scaleBand().domain(d3.range(9)).range([o.x0,o.x1]);
  const y=d3.scaleBand().domain(d3.range(o.rows.length)).range([o.y0,o.y1]);
  const ex=j=>Math.round(o.x0+x.step()*j), ey=i=>Math.round(o.y0+y.step()*i);
  o.rows.forEach((r,i)=>r.forEach((v,j)=>g.append("rect").attr("x",ex(j)).attr("y",ey(i)).attr("width",ex(j+1)-ex(j)).attr("height",ey(i+1)-ey(i)).attr("fill",col(v))));
  o.groups.forEach((c,j)=>g.append("rect").attr("x",ex(j)).attr("y",o.annY[0]).attr("width",ex(j+1)-ex(j)).attr("height",o.annY[1]-o.annY[0]).attr("fill",groupCol[c]));
  o.cols.forEach((s,j)=>txt(g,x(j)+x.bandwidth()/2-o.labSize*.35,o.labY,s,{size:o.labSize,anchor:"start",rot:90,fill:"#222"}));
  // colour bar
  const grad=d3.range(100);
  const by=d3.scaleLinear().domain([0,100]).range([o.bar[3],o.bar[2]]);
  g.selectAll(null).data(grad).join("rect").attr("x",o.bar[0]).attr("width",o.bar[1]-o.bar[0]).attr("y",d=>by(d+1)).attr("height",(o.bar[3]-o.bar[2])/100+.4).attr("fill",d=>col(o.lo+(o.hi-o.lo)*(d+.5)/100));
  const tick=d3.scaleLinear().domain([o.lo,o.hi]).range([o.bar[3],o.bar[2]]);
  o.ticks.forEach(v=>txt(g,o.tickX,tick(v)+3.7,v,{size:10.3,anchor:o.tickAnchor,fill:"#222",family:"'DejaVu Sans'"}));
  // dendrograms
  const hh=d3.scaleLinear().domain([0,o.colTree[0]]).range(o.colRange);
  drawTree(g,o.colTree,i=>x(i)+x.bandwidth()/2,hh,true);
  const rh=d3.scaleLinear().domain([0,o.rowTree[0]]).range(o.rowRange);
  drawTree(g,o.rowTree,i=>y(i)+y.bandwidth()/2,rh,false);
  // legend
  const ly=o.legY;
  [["pluripotent","p"],["mesoderm_progenitor","m"],["cardiomyocyte","c"]].forEach(([s,c],i)=>{
    g.append("rect").attr("x",o.legX).attr("y",ly+i*o.legStep).attr("width",10.8).attr("height",o.legStep).attr("fill",groupCol[c]);
    txt(g,o.legX+13,ly+i*o.legStep+o.legStep/2+2.2,s,{size:6.3,anchor:"start",fill:"#333"});
  });
}
heatmap({x0:117.3,x1:259,y0:593.3,y1:807.3,rows:cRows,cols:cCols,groups:cGroups,lo:-.76,hi:6.7,annY:[580.7,589],labY:811,labSize:7.2,
  bar:[265,277.7,593.3,777],ticks:cLegendTicks,tickX:281,tickAnchor:"start",colTree:cColTree,colRange:[579.3,514.7],rowTree:cRowTree,rowRange:[117.3,52.7],legX:259.5,legY:536.7,legStep:11.4});
const dRows=d3.range(175).map(i=>[mpc2D[i],mpc1D[i],mpc3D[i],psc3D[i],psc1D[i],psc2D[i],
  (cpc3Raised.find(p=>p[0]===i)||[0,d])[1],(cpc2Raised.find(p=>p[0]===i)||[0,d])[1],(cpc1Raised.find(p=>p[0]===i)||[0,d])[1]]);
heatmap({x0:470.3,x1:685,y0:342.7,y1:1072.7,rows:dRows,cols:dCols,groups:dGroups,lo:-.73,hi:10.4,annY:[331,339.3],labY:1076,labSize:8.6,
  bar:[453.3,465,343,517.3],ticks:dLegendTicks,tickX:449,tickAnchor:"end",colTree:dColTree,colRange:[330,269.3],rowTree:dRowTree,rowRange:[685,746.7],legX:659.7,legY:272.3,legStep:11.5});
txt(svg,304.5,693,"UPREGULATED (29)",{size:19.4,rot:90,family:"'DejaVu Sans'"});
txt(svg,461,693,"DOWNREGULATED (175)",{size:19.8,rot:-90,family:"'DejaVu Sans'"});

// ---- E
const eX=[43.7,140,236.7,333.3], eBase=[937.7,1066.3];
const eZero=[902.3,910.3,909.3,907.3,1034,1031.3,1035,1038.3];
const eMinusOne=[931,937.7,936,933.3,1060,1060,1060.7,1065];
eTitles.forEach((title,k)=>{
  const g=svg.append("g");
  const c=k%4,r=Math.floor(k/4),x0=eX[c],base=eBase[r];
  const x=d3.scalePoint().domain(eGroups).range([x0,x0+48]);
  const y=d3.scaleLinear().domain([-1,0]).range([eMinusOne[k],eZero[k]]);
  const ax=x0-1.5;
  const ln=d3.line().x((d,i)=>x(eGroups[i])).y(d=>y(d));
  eProfiles[k].forEach((p,i)=>g.append("path").attr("d",ln(p)).attr("fill","none").attr("stroke",eShades[i%eShades.length]).attr("stroke-width",1.4));
  g.append("path").attr("d",ln(eMeans[k])).attr("fill","none").attr("stroke","#000").attr("stroke-width",1.2);
  const tv=eTicks[k];
  g.append("line").attr("x1",ax).attr("x2",ax).attr("y1",y(tv[0])).attr("y2",y(tv[tv.length-1])).attr("stroke","#666");
  tv.forEach(v=>g.append("line").attr("x1",ax-3).attr("x2",ax).attr("y1",y(v)).attr("y2",y(v)).attr("stroke","#666"));
  eLabels[k].forEach(v=>txt(g,ax-6,y(v),v.toFixed(1).replace("-","\u2212"),{size:6.3,rot:-90,fill:"#222"}));
  g.append("line").attr("x1",x0).attr("x2",x0+48).attr("y1",base).attr("y2",base).attr("stroke","#666");
  eGroups.forEach(s=>{g.append("line").attr("x1",x(s)).attr("x2",x(s)).attr("y1",base).attr("y2",base+3).attr("stroke","#666");txt(g,x(s),base+13,s,{size:6.5,fill:"#222"});});
  txt(g,x0+24,base+27.5,"Cell Group",{size:6,fill:"#222"});
  txt(g,x0+24,base-74,title,{size:7,weight:"bold"});
  txt(g,x0-25,base-31,"Standardize FC",{size:6,rot:-90,fill:"#222"});
});
</script></body></html>
